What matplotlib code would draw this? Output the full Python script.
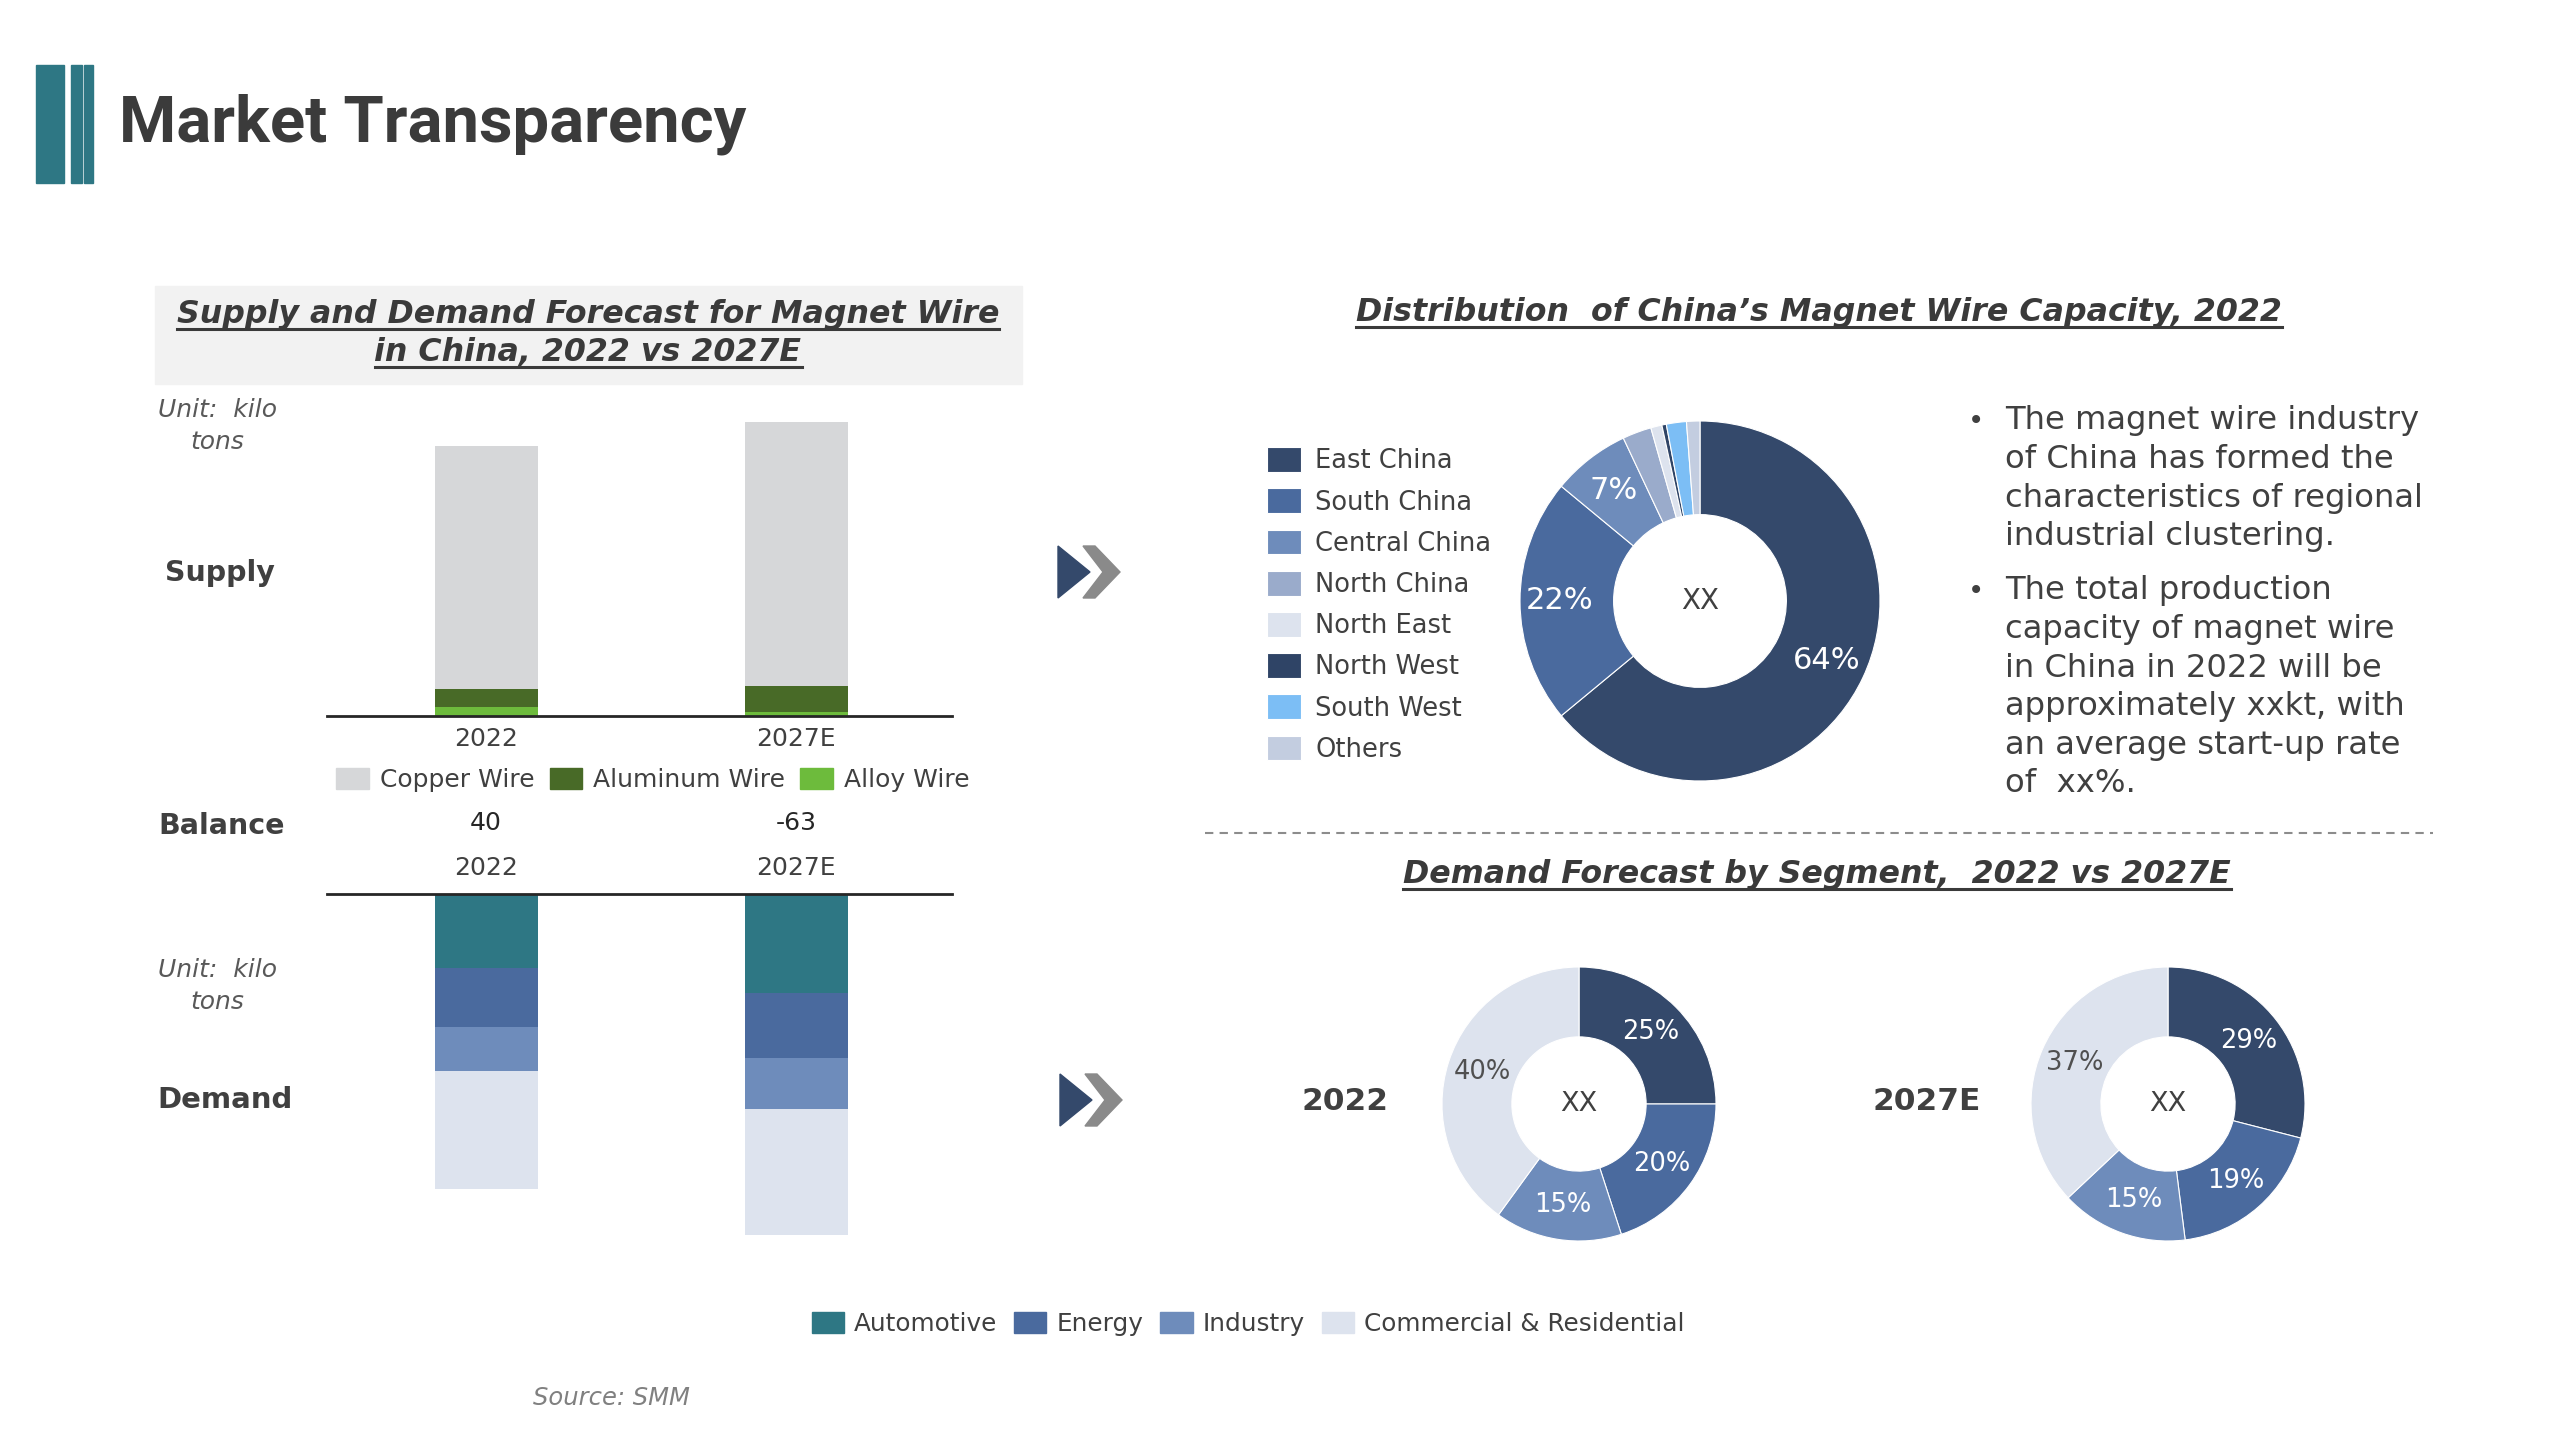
import matplotlib
matplotlib.use('Agg')
import matplotlib.pyplot as plt
from matplotlib.patches import Rectangle, Polygon, Patch
import matplotlib.transforms as mtransforms
import numpy as np

W, H = 2560, 1440
plt.rcParams['font.family'] = ['DejaVu Sans']
TXT = '#404040'

# ---------------- data ----------------
years = ['2022', '2027E']
supply_labels = ['Copper Wire', 'Aluminum Wire', 'Alloy Wire']
copper = [1458, 1585]
aluminum = [108, 156]
alloy = [54, 24]

demand_labels = ['Automotive', 'Energy', 'Industry', 'Commercial & Residential']
automotive = [395, 530]
energy = [316, 347]
industry = [237, 274]
commercial = [632, 677]

regions = ['East China', 'South China', 'Central China', 'North China',
           'North East', 'North West', 'South West', 'Others']
region_share = [64, 22, 7, 2.6, 1.0, 0.4, 1.8, 1.2]

segment_share_2022 = [25, 20, 15, 40]
segment_share_2027 = [29, 19, 15, 37]

bullets = [
    ['The magnet wire industry', 'of China has formed the',
     'characteristics of regional', 'industrial clustering.'],
    ['The total production', 'capacity of magnet wire',
     'in China in 2022 will be', 'approximately xxkt, with',
     'an average start-up rate', 'of  xx%.'],
]

# ---------------- styles ----------------
supply_colors = ['#d6d7d9', '#486a27', '#6dbb3c']
bar_demand_colors = ['#2e7784', '#4a6a9e', '#6e8cbb', '#dde3ee']
donut_seg_colors = ['#34496b', '#4a6a9e', '#6e8cbb', '#dde3ee']
region_colors = ['#34496b', '#4a6a9e', '#6e8cbb', '#9aabcb',
                 '#dde3ee', '#2f4466', '#7cbef5', '#c3cde0']

fig = plt.figure(figsize=(25.6, 14.4), dpi=100)
bg = fig.add_axes([0, 0, 1, 1])
bg.set_xlim(0, W)
bg.set_ylim(H, 0)
bg.axis('off')


def fax(x0, y0, x1, y1):
    return fig.add_axes([x0 / W, 1 - y1 / H, (x1 - x0) / W, (y1 - y0) / H])


underlined = []
TITLE_FS = 22.8

# ---------------- header ----------------
hc = '#2e7784'
bg.add_patch(Rectangle((36, 65), 28, 118, color=hc))
bg.add_patch(Rectangle((71, 65), 11, 118, color=hc))
bg.add_patch(Rectangle((83.5, 65), 9.5, 118, color=hc))
bg.text(119, 124, 'Market Transparency', fontsize=47, fontweight='bold',
        family=['Roboto', 'DejaVu Sans'], color='#3b3b3b', va='center', ha='left')

# ---------------- left panel ----------------
bg.add_patch(Rectangle((155, 286), 867, 98, color='#f2f2f2', zorder=0))
for s, y in [('Supply and Demand Forecast for Magnet Wire', 315),
             ('in China, 2022 vs 2027E', 353)]:
    underlined.append(bg.text(588, y, s, fontsize=TITLE_FS, fontweight='bold', style='italic',
                              color='#3a3a3a', ha='center', va='center'))

for y in (426, 986):
    bg.text(217, y, 'Unit:  kilo\ntons', fontsize=18, style='italic', color='#595959',
            ha='center', va='center', linespacing=1.45)
bg.text(220, 573, 'Supply', fontsize=20.5, fontweight='bold', color=TXT, ha='center', va='center')
bg.text(222, 826, 'Balance', fontsize=20.5, fontweight='bold', color=TXT, ha='center', va='center')
bg.text(225, 1100, 'Demand', fontsize=21, fontweight='bold', color=TXT, ha='center', va='center')

x = np.arange(len(years))
bw = 0.332

# supply
ax_s = fax(327, 400, 952, 716)
ax_s.patch.set_alpha(0)
b0 = np.zeros(2)
for vals, c in zip([alloy, aluminum, copper], supply_colors[::-1]):
    ax_s.bar(x, vals, bw, bottom=b0, color=c, zorder=2)
    b0 = b0 + np.array(vals)
ax_s.set_xlim(-0.513, 1.503)
ax_s.set_ylim(0, 1896)
for sp in ['top', 'left', 'right']:
    ax_s.spines[sp].set_visible(False)
ax_s.spines['bottom'].set_color('#262626')
ax_s.spines['bottom'].set_linewidth(2)
ax_s.spines['bottom'].set_zorder(3)
ax_s.set_yticks([])
ax_s.set_xticks(x)
ax_s.set_xticklabels(years, fontsize=18, color=TXT)
ax_s.tick_params(axis='x', length=0, pad=8)
handles = [Patch(color=c) for c in supply_colors]
ax_s.legend(handles, supply_labels, loc='center', bbox_to_anchor=(653 / W, 1 - 780 / H),
            bbox_transform=fig.transFigure, ncol=3, frameon=False, fontsize=18,
            handlelength=1.3, handleheight=0.95, handletextpad=0.45, columnspacing=0.6,
            labelcolor=TXT, borderpad=0)

supply_tot = np.array(copper) + np.array(aluminum) + np.array(alloy)
demand_tot = np.array(automotive) + np.array(energy) + np.array(industry) + np.array(commercial)
balance = supply_tot - demand_tot
tr = mtransforms.blended_transform_factory(ax_s.transData, bg.transData)
for i, v in enumerate(balance):
    bg.text(i, 823, f'{v:.0f}', transform=tr, fontsize=18, color='#262626',
            ha='center', va='center')

# demand
ax_d = fax(327, 894, 952, 1246)
ax_d.patch.set_alpha(0)
b0 = np.zeros(2)
for vals, c in zip([automotive, energy, industry, commercial], bar_demand_colors):
    ax_d.bar(x, vals, bw, bottom=b0, color=c, zorder=2)
    b0 = b0 + np.array(vals)
ax_d.set_xlim(-0.513, 1.503)
ax_d.set_ylim(1885, 0)
for sp in ['bottom', 'left', 'right']:
    ax_d.spines[sp].set_visible(False)
ax_d.spines['top'].set_color('#262626')
ax_d.spines['top'].set_linewidth(2)
ax_d.spines['top'].set_zorder(3)
ax_d.set_yticks([])
ax_d.xaxis.tick_top()
ax_d.set_xticks(x)
ax_d.set_xticklabels(years, fontsize=18, color=TXT)
ax_d.tick_params(axis='x', length=0, pad=10)


# arrows
def arrow(x0, yc):
    bg.add_patch(Polygon([(x0, yc - 26), (x0 + 32, yc), (x0, yc + 26)], closed=True,
                         color='#34496b'))
    bg.add_patch(Polygon([(x0 + 25, yc - 26), (x0 + 37, yc - 26), (x0 + 62, yc),
                          (x0 + 37, yc + 26), (x0 + 25, yc + 26), (x0 + 45, yc)],
                         closed=True, color='#8a8a8a'))


arrow(1058, 572)
arrow(1060, 1100)

# ---------------- right top ----------------
underlined.append(bg.text(1819, 313, 'Distribution  of China\u2019s Magnet Wire Capacity, 2022',
                          fontsize=TITLE_FS, fontweight='bold', style='italic', color='#3a3a3a',
                          ha='center', va='center'))

ax_p = fax(1520, 421, 1880, 781)
wedges, _, autot = ax_p.pie(region_share, colors=region_colors, startangle=90, counterclock=False,
                            radius=1, wedgeprops=dict(width=0.52, edgecolor='white', linewidth=0.8),
                            autopct=lambda p: f'{p:.0f}%' if p >= 5 else '', pctdistance=0.78,
                            textprops=dict(color='white', fontsize=22))
ax_p.set_xlim(-1, 1)
ax_p.set_ylim(-1, 1)
ax_p.text(0, 0, 'XX', ha='center', va='center', fontsize=20, color=TXT)
ax_p.legend(wedges, regions, loc='center left', bbox_to_anchor=(1267 / W, 1 - 605 / H),
            bbox_transform=fig.transFigure, frameon=False, fontsize=18.5,
            handlelength=1.32, handleheight=1.1, handletextpad=0.55, labelspacing=0.55,
            labelcolor=TXT, borderpad=0, borderaxespad=0)

# bullets
pitch = 38.6
for para, y0 in zip(bullets, (421, 591)):
    bg.text(1976, y0, '\u2022', fontsize=20, color=TXT, ha='center', va='center')
    for k, line in enumerate(para):
        bg.text(2005, y0 + k * pitch, line, fontsize=23.2, color=TXT, ha='left', va='center')

bg.plot([1205, 2433], [833, 833], ls=(0, (4, 3)), color='#8c8c8c', lw=1.5)

# ---------------- right bottom ----------------
underlined.append(bg.text(1817, 875, 'Demand Forecast by Segment,  2022 vs 2027E',
                          fontsize=TITLE_FS, fontweight='bold', style='italic', color='#3a3a3a',
                          ha='center', va='center'))

for shares, (cx, lab, lx) in zip([segment_share_2022, segment_share_2027],
                                  [(1579, '2022', 1345), (2168, '2027E', 1927)]):
    r = 137
    ax = fax(cx - r, 1104 - r, cx + r, 1104 + r)
    w_, _, at = ax.pie(shares, colors=donut_seg_colors, startangle=90, counterclock=False,
                       radius=1, wedgeprops=dict(width=0.51, edgecolor='white', linewidth=0.8),
                       autopct='%.0f%%', pctdistance=0.745,
                       textprops=dict(color='white', fontsize=18.5))
    at[-1].set_color('#505050')
    ax.set_xlim(-1, 1)
    ax.set_ylim(-1, 1)
    ax.text(0, 0, 'XX', ha='center', va='center', fontsize=19.5, color=TXT)
    bg.text(lx, 1101, lab, fontsize=22.5, fontweight='bold', color=TXT, ha='center', va='center')

handles = [Patch(color=c) for c in bar_demand_colors]
bg.legend(handles, demand_labels, loc='center', bbox_to_anchor=(1248 / W, 1 - 1324 / H),
          bbox_transform=fig.transFigure, ncol=4, frameon=False, fontsize=17.8,
          handlelength=1.3, handleheight=0.95, handletextpad=0.4, columnspacing=0.7,
          labelcolor=TXT, borderpad=0)

bg.text(611, 1398, 'Source: SMM', fontsize=17.5, style='italic', color='#808080',
        ha='center', va='center')

# underline titles
fig.canvas.draw()
rend = fig.canvas.get_renderer()
inv = bg.transData.inverted()
for t in underlined:
    bb = t.get_window_extent(rend)
    (x0, yb), (x1, yt) = inv.transform([[bb.x0, bb.y0], [bb.x1, bb.y1]])
    bg.plot([x0, x1], [yb - 2, yb - 2], color='#3a3a3a', lw=2.2)

fig.savefig('out.png', dpi=100)
